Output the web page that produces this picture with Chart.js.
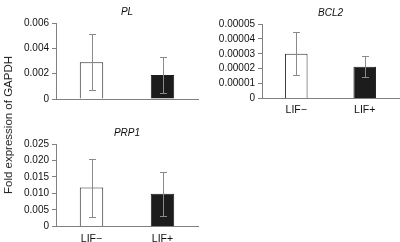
<!DOCTYPE html>
<html>
<head>
<meta charset="utf-8">
<script src="https://cdn.jsdelivr.net/npm/chart.js@4.4.0/dist/chart.umd.min.js"></script>
<style>
  body { margin: 0; background: #fff; }
  #wrap { position: relative; width: 400px; height: 242px; overflow: hidden; }
  .panel { position: absolute; }
  #ytitle {
    position: absolute; left: 8px; top: 125px;
    transform: translate(-50%, -50%) rotate(-90deg);
    font: 11.5px "Liberation Sans", Arial, sans-serif; color: #222; white-space: nowrap;
  }
</style>
</head>
<body>
<div id="wrap">
  <div class="panel" style="left:0;top:0;width:200px;height:121px"><canvas id="pl"></canvas></div>
  <div class="panel" style="left:200px;top:0;width:200px;height:121px"><canvas id="bcl2"></canvas></div>
  <div class="panel" style="left:0;top:121px;width:200px;height:130px"><canvas id="prp1"></canvas></div>
  <div id="ytitle">Fold expression of GAPDH</div>
</div>
<script>
const categories = ["LIF\u2212", "LIF+"];

const plValues = [0.0029, 0.0019];
const plErrors = [0.0022, 0.0014];
const plTicks = [0, 0.002, 0.004, 0.006];
const plTickLabels = ["0", "0.002", "0.004", "0.006"];

const bcl2Values = [0.00003, 0.0000213];
const bcl2Errors = [0.0000145, 0.0000072];
const bcl2Ticks = [0, 0.00001, 0.00002, 0.00003, 0.00004, 0.00005];
const bcl2TickLabels = ["0", "0.00001", "0.00002", "0.00003", "0.00004", "0.00005"];

const prp1Values = [0.0118, 0.0099];
const prp1Errors = [0.0088, 0.0066];
const prp1Ticks = [0, 0.005, 0.01, 0.015, 0.02, 0.025];
const prp1TickLabels = ["0", "0.005", "0.010", "0.015", "0.020", "0.025"];

const FONT = "'Liberation Sans', Arial, sans-serif";
const AXIS = "#808080";

// draws the error bars from the dataset's errors array
const errorBars = {
  id: "errorBars",
  afterDatasetsDraw(chart) {
    const ctx = chart.ctx;
    const ds = chart.data.datasets[0];
    const meta = chart.getDatasetMeta(0);
    const y = chart.scales.y;
    ctx.save();
    ctx.strokeStyle = "#8a8a8a";
    ctx.lineWidth = 1;
    meta.data.forEach((bar, i) => {
      const v = ds.data[i], e = ds.errors[i];
      const x = Math.round(bar.x) + 0.5;
      const top = Math.round(y.getPixelForValue(v + e)) + 0.5;
      const bot = Math.round(y.getPixelForValue(v - e)) + 0.5;
      ctx.beginPath();
      ctx.moveTo(x, top); ctx.lineTo(x, bot);
      ctx.moveTo(x - 3.5, top); ctx.lineTo(x + 3.5, top);
      ctx.moveTo(x - 3.5, bot); ctx.lineTo(x + 3.5, bot);
      ctx.stroke();
    });
    ctx.restore();
  },
};

const makeChart = (id, opts) => {
  const ctx = document.getElementById(id).getContext("2d");
  return new Chart(ctx, {
    type: "bar",
    data: {
      labels: categories,
      datasets: [{
        data: opts.values,
        errors: opts.errors,
        backgroundColor: ["#ffffff", "#1c1c1c"],
        borderColor: ["#2a2a2a", "#1c1c1c"],
        borderWidth: 1,
        borderSkipped: "bottom",
        categoryPercentage: 1,
        barPercentage: 0.33,
      }],
    },
    options: {
      responsive: true,
      maintainAspectRatio: false,
      animation: false,
      layout: { padding: opts.padding },
      plugins: {
        legend: { display: false },
        tooltip: { enabled: false },
        title: {
          display: true,
          fullSize: false,
          text: opts.title,
          color: "#111",
          font: { family: FONT, size: 10, style: "italic", weight: "normal" },
          padding: { top: 6, bottom: 5 },
        },
      },
      scales: {
        x: {
          grid: { display: false, drawTicks: false },
          border: { display: true, color: AXIS, width: 1 },
          ticks: {
            display: opts.showX,
            color: "#111",
            padding: opts.xPad,
            font: { family: FONT, size: 10.5 },
          },
        },
        y: {
          min: 0,
          max: opts.ticks[opts.ticks.length - 1],
          afterBuildTicks: (scale) => {
            scale.ticks = opts.ticks.map((v) => ({ value: v }));
          },
          afterFit: (scale) => {
            scale.width = opts.yWidth;
          },
          grid: { drawOnChartArea: false, drawTicks: true, tickLength: 4, color: AXIS },
          border: { display: true, color: AXIS, width: 1 },
          ticks: {
            autoSkip: false,
            color: "#111",
            padding: 3,
            font: { family: FONT, size: 10 },
            callback: (v, i) => opts.tickLabels[i],
          },
        },
      },
    },
    plugins: [errorBars],
  });
};

makeChart("pl", {
  title: "PL", values: plValues, errors: plErrors,
  ticks: plTicks, tickLabels: plTickLabels,
  yWidth: 56, showX: false, xPad: 4,
  padding: { top: 0, right: 2, bottom: 22, left: 0 },
});

makeChart("bcl2", {
  title: "BCL2", values: bcl2Values, errors: bcl2Errors,
  ticks: bcl2Ticks, tickLabels: bcl2TickLabels,
  yWidth: 62, showX: true, xPad: 5,
  padding: { top: 1, right: 1, bottom: 0, left: 0 },
});

makeChart("prp1", {
  title: "PRP1", values: prp1Values, errors: prp1Errors,
  ticks: prp1Ticks, tickLabels: prp1TickLabels,
  yWidth: 56, showX: true, xPad: 6,
  padding: { top: 0, right: 2, bottom: 0, left: 0 },
});
</script>
</body>
</html>
